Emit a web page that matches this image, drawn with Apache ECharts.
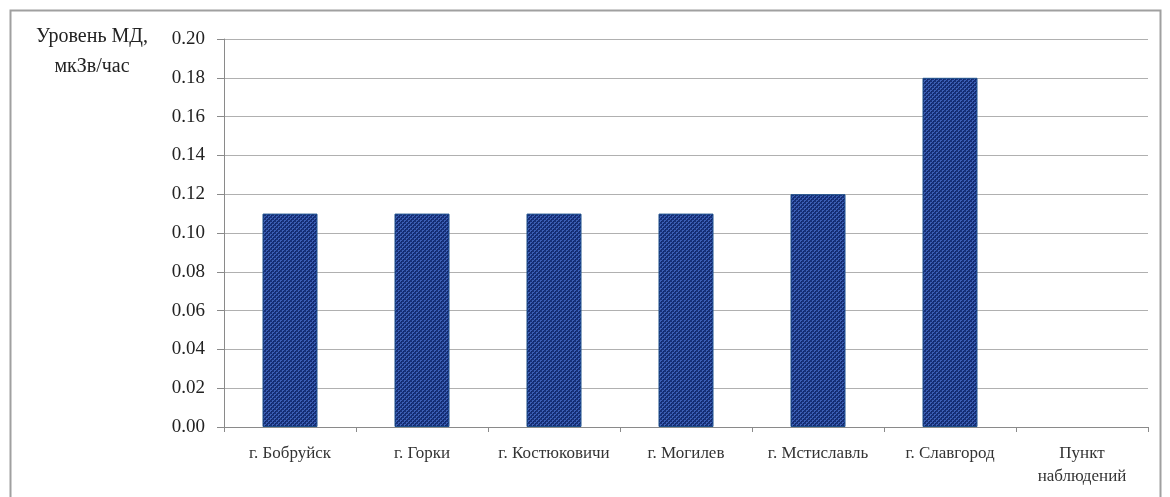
<!DOCTYPE html>
<html>
<head>
<meta charset="utf-8">
<script src="https://cdn.jsdelivr.net/npm/echarts@6/dist/echarts.min.js"></script>
<style>
html,body{margin:0;padding:0;background:#fff;}
#chart{width:1170px;height:497px;}
</style>
</head>
<body>
<div id="chart"></div>
<script>
// Dose-rate levels by monitoring point
const categories = ['г. Бобруйск', 'г. Горки', 'г. Костюковичи', 'г. Могилев', 'г. Мстиславль', 'г. Славгород', 'Пункт\nнаблюдений'];
const doseRate = [0.11, 0.11, 0.11, 0.11, 0.12, 0.18, null];
const axisTitle = 'Уровень МД,\nмкЗв/час';

// Small checkered fill for the bars
function makePattern() {
  const c = document.createElement('canvas');
  c.width = 4; c.height = 4;
  const g = c.getContext('2d');
  g.fillStyle = '#17317a';
  g.fillRect(0, 0, 4, 4);
  g.fillStyle = '#3c5fb4';
  g.fillRect(0, 0, 2, 2);
  g.fillRect(2, 2, 2, 2);
  g.fillStyle = '#0f2566';
  g.fillRect(1, 1, 1, 1);
  g.fillRect(3, 3, 1, 1);
  return c;
}

const serif = '"Liberation Serif", "DejaVu Serif", serif';
const chart = echarts.init(document.getElementById('chart'));
chart.setOption({
  animation: false,
  grid: { left: 224, right: 22, top: 39, bottom: 70 },
  graphic: [
    {
      type: 'rect',
      shape: { x: 10.5, y: 10.5, width: 1150, height: 500 },
      style: { fill: 'none', stroke: '#a0a0a0', lineWidth: 2 },
      silent: true
    },
    {
      type: 'text',
      x: 92, y: 22,
      style: {
        text: axisTitle,
        font: '20px ' + serif,
        fill: '#222',
        align: 'center',
        verticalAlign: 'top',
        lineHeight: 30
      }
    }
  ],
  xAxis: {
    type: 'category',
    data: categories,
    axisLine: { lineStyle: { color: '#8a8a8a', width: 1 } },
    axisTick: { show: true, length: 5, lineStyle: { color: '#8a8a8a' } },
    axisLabel: {
      color: '#333',
      fontFamily: serif,
      fontSize: 17,
      margin: 15,
      lineHeight: 23,
      interval: 0
    }
  },
  yAxis: {
    type: 'value',
    min: 0,
    max: 0.2,
    interval: 0.02,
    axisLine: { show: true, lineStyle: { color: '#8a8a8a', width: 1 } },
    axisTick: { show: true, length: 7, lineStyle: { color: '#8a8a8a' } },
    axisLabel: {
      color: '#222',
      fontFamily: serif,
      fontSize: 19,
      margin: 19,
      formatter: v => v.toFixed(2)
    },
    splitLine: { lineStyle: { color: '#b0b0b0', width: 1 } }
  },
  series: [{
    type: 'bar',
    data: doseRate,
    barWidth: 55,
    itemStyle: {
      color: { image: makePattern(), repeat: 'repeat' },
      borderColor: '#1d4f8a',
      borderWidth: 1
    }
  }]
});
</script>
</body>
</html>
